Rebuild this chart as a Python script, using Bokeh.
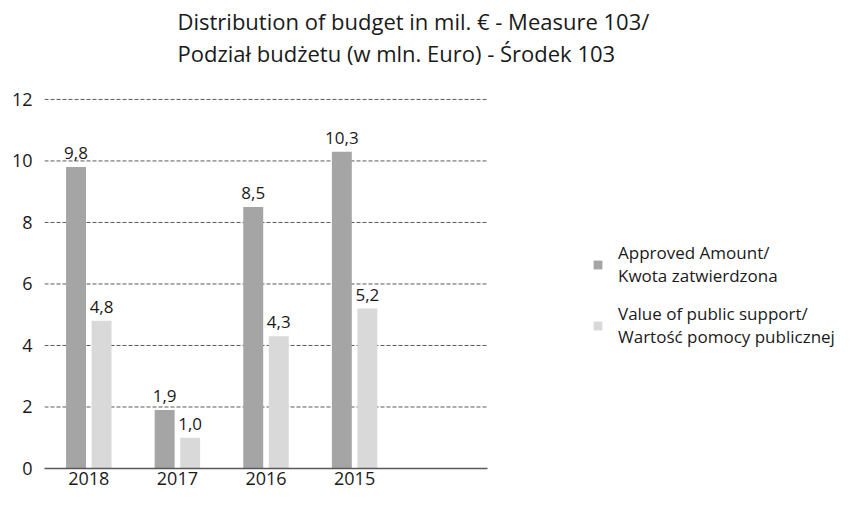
from bokeh.plotting import figure
from bokeh.models import ColumnDataSource, FixedTicker, Legend, LegendItem, Title
from bokeh.core.properties import value
from bokeh.embed import file_html
from bokeh.resources import INLINE

years = ["2018", "2017", "2016", "2015"]
approved = [9.8, 1.9, 8.5, 10.3]
public_support = [4.8, 1.0, 4.3, 5.2]
series_names = ["Approved Amount/\nKwota zatwierdzona",
                "Value of public support/\nWartość pomocy publicznej"]
title_text = ("Distribution of budget in mil. € - Measure 103/\n"
              "Podział budżetu (w mln. Euro) - Środek 103")
y_ticks = [0, 2, 4, 6, 8, 10, 12]

FONT = "Open Sans"
DARK = "#a5a5a5"
LIGHT = "#d9d9d9"
TXT = "#1a1a1a"
GRID = "#595959"

n_slots = len(years) + 1          # one empty slot after the last year
centers = [i + 0.5 for i in range(len(years))]
off = 0.144
bw = 0.225

def fmt(v):
    return f"{v:.1f}".replace(".", ",")

src_a = ColumnDataSource(dict(x=[c - off for c in centers], top=approved,
                              lab=[fmt(v) for v in approved]))
src_p = ColumnDataSource(dict(x=[c + off for c in centers], top=public_support,
                              lab=[fmt(v) for v in public_support]))
grid_src = ColumnDataSource(dict(x0=[0] * (len(y_ticks) - 1),
                                 x1=[n_slots] * (len(y_ticks) - 1),
                                 y=y_ticks[1:]))

# frame: x 44..846 px, y 71..468 px; category axis uses the first 5 units,
# value axis 0..12 occupies 98..468 px as in the reference
W, H = 846, 492
TOP, BOTTOM, LEFT = 71, 24, 44
frame_h = H - TOP - BOTTOM
y_top = max(y_ticks) * frame_h / (H - BOTTOM - 98)
x_end = n_slots * (W - LEFT) / 443

p = figure(width=W, height=H, output_backend="svg", toolbar_location=None,
           x_range=(0, x_end), y_range=(0, y_top),
           min_border_left=LEFT, min_border_right=0, min_border_top=TOP,
           min_border_bottom=BOTTOM)
p.outline_line_color = None
p.background_fill_color = "white"
p.xgrid.grid_line_color = None
p.ygrid.grid_line_color = None

p.segment(x0="x0", x1="x1", y0="y", y1="y", source=grid_src,
          line_color=GRID, line_dash="4 2", line_width=1)

r1 = p.vbar(x="x", top="top", width=bw, source=src_a, fill_color=DARK, line_color=None)
r2 = p.vbar(x="x", top="top", width=bw, source=src_p, fill_color=LIGHT, line_color=None)

for s in (src_a, src_p):
    p.text(x="x", y="top", text="lab", source=s, text_align="center",
           text_baseline="alphabetic", y_offset=-14, text_font=value(FONT),
           text_font_size="17px", text_color=TXT)

p.yaxis.ticker = FixedTicker(ticks=y_ticks)
p.yaxis.axis_line_color = None
p.yaxis.major_tick_line_color = None
p.yaxis.minor_tick_line_color = None
p.yaxis.major_tick_out = 0
p.yaxis.major_tick_in = 0
p.yaxis.major_label_standoff = 12
p.yaxis.major_label_text_font = FONT
p.yaxis.major_label_text_font_size = "18px"
p.yaxis.major_label_text_color = TXT

p.xaxis.bounds = (0, n_slots)
p.xaxis.ticker = FixedTicker(ticks=centers)
p.xaxis.major_label_overrides = {c: y for c, y in zip(centers, years)}
p.xaxis.axis_line_color = GRID
p.xaxis.axis_line_width = 1.5
p.xaxis.major_tick_line_color = None
p.xaxis.minor_tick_line_color = None
p.xaxis.major_tick_out = 0
p.xaxis.major_tick_in = 0
p.xaxis.major_label_standoff = 3
p.xaxis.major_label_text_font = FONT
p.xaxis.major_label_text_font_size = "18px"
p.xaxis.major_label_text_color = TXT

p.add_layout(Title(text=title_text, align="left", offset=133, standoff=8,
                   text_font=FONT, text_font_size="22px", text_font_style="normal",
                   text_line_height=1.07, text_color=TXT), "above")

legend = Legend(items=[LegendItem(label=series_names[0], renderers=[r1]),
                       LegendItem(label=series_names[1], renderers=[r2])],
                location=(548, 120), label_text_font=FONT,
                label_text_font_size="17px", label_text_color=TXT,
                glyph_width=11, glyph_height=11, label_standoff=15,
                spacing=15, margin=0, padding=0,
                border_line_color=None, background_fill_alpha=0)
p.add_layout(legend, "center")

open("out.html", "w").write(file_html(p, INLINE))
